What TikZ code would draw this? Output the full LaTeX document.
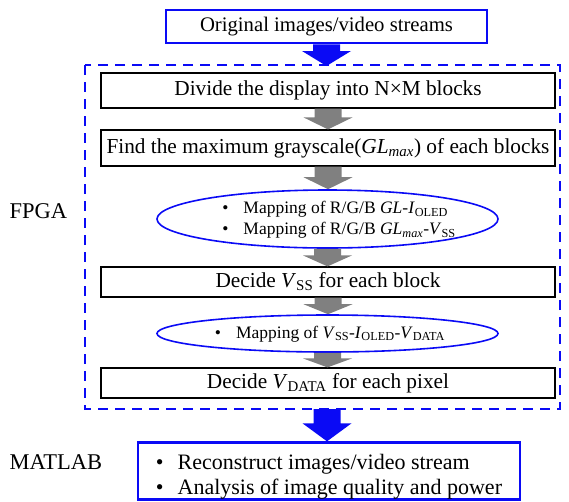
\documentclass[tikz,border=0pt]{standalone}
\usepackage{fontspec}
\setmainfont{Liberation Serif}
\usetikzlibrary{calc,shapes.geometric,positioning}
\definecolor{flowblue}{RGB}{10,10,245}
\definecolor{flowgray}{RGB}{128,128,128}

% fat block arrow from the bottom of one node to the top of the next
% #1 colour, #2 start, #3 end, #4 head length
\newcommand{\fatarrow}[4]{%
  \fill[#1] let \p1=(#2), \p2=(#3) in
    (\x1-13.5pt,\y1) -- (\x1+13.5pt,\y1) -- (\x1+13.5pt,\y2+#4)
    -- (\x1+24.5pt,\y2+#4) -- (\x1,\y2) -- (\x1-24.5pt,\y2+#4)
    -- (\x1-13.5pt,\y2+#4) -- cycle;
}

\tikzset{
  stepbox/.style={draw=black,line width=1.2pt,minimum width=454pt,
    inner sep=0pt,font=\fontsize{21.3}{24}\selectfont},
  bluebox/.style={draw=flowblue,line width=2.6pt,inner sep=0pt},
  mapellipse/.style={ellipse,draw=flowblue,line width=1.6pt,
    minimum width=341pt,inner sep=0pt},
  maptext/.style={inner sep=0pt,align=left,
    font=\fontsize{17.5}{21}\selectfont},
  sidelabel/.style={font=\fontsize{22.5}{25}\selectfont,anchor=west}
}

\begin{document}
\begin{tikzpicture}[x=1pt,y=-1pt]
\useasboundingbox (0,0) rectangle (569,501);

%% input
\node[bluebox,minimum width=321pt,minimum height=33pt,
  font=\fontsize{20.7}{24}\selectfont] (src) at (326.5,26.5)
  {Original images/video streams};

%% FPGA part
\draw[flowblue,line width=2.4pt,dash pattern=on 10pt off 7pt]
  (85,65) rectangle (560,409);
\coordinate (fpgatop) at (327,66);
\coordinate (fpgabot) at (327,409);
\node[sidelabel] (fpga) at (6,211) {FPGA};

\node[stepbox,minimum height=35pt] (divide) at (328,90.5)
  {Divide the display into N\texttimes M blocks};
\node[stepbox,minimum height=36pt] (findmax) at (328,148)
  {Find the maximum grayscale(\textit{GL}\textsubscript{\textit{max}}) of each blocks};

\node[mapellipse,minimum height=58pt] (mapgl) at (327.5,219) {};
\node[maptext] (mapgltxt) at (339,220)
  {\textbullet\hspace{15pt}Mapping of R/G/B \textit{GL}-\textit{I}\textsubscript{OLED}\\
   \textbullet\hspace{15pt}Mapping of R/G/B \textit{GL}\textsubscript{\textit{max}}-\textit{V}\textsubscript{SS}};

\node[stepbox,minimum height=30pt] (decvss) at (328,282)
  {Decide \textit{V}\textsubscript{SS} for each block};

\node[mapellipse,minimum height=37pt] (mapvss) at (327.5,333.5) {};
\node[maptext] (mapvsstxt) at (330,334)
  {\textbullet\hspace{15pt}Mapping of \textit{V}\textsubscript{SS}-\textit{I}\textsubscript{OLED}-\textit{V}\textsubscript{DATA}};

\node[stepbox,minimum height=30pt] (decvdata) at (328,383)
  {Decide \textit{V}\textsubscript{DATA} for each pixel};

%% MATLAB part
\node[sidelabel] (matlabl) at (6,462) {MATLAB};
\node[bluebox,minimum width=382pt,minimum height=56pt,align=left,
  font=\fontsize{22}{25}\selectfont] (matlab) at (329,471)
  {\rule{0pt}{27pt}\textbullet\hspace{14pt}Reconstruct images/video stream\\
   \textbullet\hspace{14pt}Analysis of image quality and power};

%% arrows
\fatarrow{flowblue}{src.south}{fpgatop}{15pt}
\fatarrow{flowgray}{divide.south}{findmax.north}{12pt}
\fatarrow{flowgray}{findmax.south}{mapgl.north}{12pt}
\fatarrow{flowgray}{mapgl.south}{decvss.north}{11pt}
\fatarrow{flowgray}{decvss.south}{mapvss.north}{10pt}
\fatarrow{flowgray}{mapvss.south}{decvdata.north}{9pt}
\fatarrow{flowblue}{fpgabot}{matlab.north}{18pt}

\end{tikzpicture}
\end{document}
